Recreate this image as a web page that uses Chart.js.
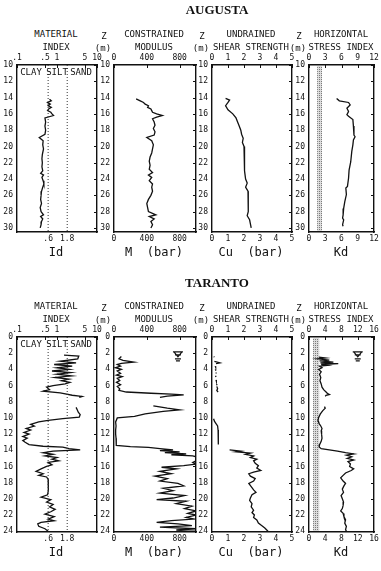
<!DOCTYPE html>
<html>
<head>
<meta charset="utf-8">
<title>DMT profiles - Augusta and Taranto</title>
<script src="https://cdn.jsdelivr.net/npm/chart.js"></script>
<style>
  body { margin: 0; background: #fff; }
  #wrap { position: relative; width: 381px; height: 571px; overflow: hidden; }
  #wrap canvas { position: absolute; }
  .t { position: absolute; transform: translate(-50%, -50%); white-space: pre; line-height: 1;
       font-family: 'DejaVu Sans Mono', monospace; font-size: 9px; color: #111; }
  .site { font-family: 'Liberation Serif', serif; font-weight: bold; font-size: 13px; }
  .name { font-size: 12px; }
</style>
</head>
<body>
<div id="wrap"></div>
<script>
// ---------- data ----------
const sites = ['AUGUSTA', 'TARANTO'];
const panelTitles = [['MATERIAL', 'INDEX'], ['CONSTRAINED', 'MODULUS'], ['UNDRAINED', 'SHEAR STRENGTH'], ['HORIZONTAL', 'STRESS INDEX']];
const axisNames = ['Id', 'M  (bar)', 'Cu  (bar)', 'Kd'];
const soilClasses = ['CLAY', 'SILT', 'SAND'];

const augDepthTicks = [10, 12, 14, 16, 18, 20, 22, 24, 26, 28, 30];
const tarDepthTicks = [0, 2, 4, 6, 8, 10, 12, 14, 16, 18, 20, 22, 24];
const idTicks = [0.1, 0.5, 1, 5, 10];
const idTickLabels = ['.1', '.5', '1', '5', '10'];
const idBounds = [0.6, 1.8];
const idBoundLabels = ['.6', '1.8'];
const mTicks = [0, 400, 800];
const cuTicks = [0, 1, 2, 3, 4, 5];
const augKdTicks = [0, 3, 6, 9, 12];
const tarKdTicks = [0, 4, 8, 12, 16];
const augKdBand = [1.5, 2.4];
const tarKdBand = [1.0, 2.5];
const tarWaterDepth = 2.2;

// AUGUSTA
const augIdDepth = [14.2,14.4,14.6,14.8,15.0,15.2,15.4,15.6,15.8,16.0,16.2,16.5,17.0,17.5,18.0,18.5,18.9,19.3,19.8,20.3,21.0,21.5,22.0,22.5,23.0,23.3,23.5,23.8,24.2,24.6,25.0,25.5,26.0,26.5,27.0,27.5,28.0,28.4,28.6,28.9,29.2,29.6,30.0];
const augId = [0.65,0.72,0.58,0.68,0.6,0.72,0.62,0.58,0.7,0.75,0.82,0.5,0.52,0.5,0.52,0.5,0.36,0.45,0.44,0.46,0.43,0.42,0.43,0.42,0.44,0.39,0.46,0.42,0.45,0.47,0.44,0.41,0.4,0.39,0.41,0.38,0.4,0.46,0.39,0.44,0.41,0.4,0.38];

const augMDepth = [14.15,14.4,14.6,14.8,15.0,15.2,15.4,15.6,15.8,16.0,16.2,16.4,16.6,17.0,17.4,17.8,18.2,18.6,18.9,19.3,19.8,20.3,20.8,21.3,21.8,22.3,22.8,23.2,23.5,23.8,24.2,24.6,25.0,25.5,26.0,26.5,27.0,27.5,28.0,28.4,28.6,28.9,29.2,29.6,30.0];
const augM = [270,320,360,380,420,410,450,460,470,520,590,520,470,490,500,480,500,490,400,460,480,470,460,440,430,440,430,470,420,460,430,470,460,470,450,420,400,410,420,510,430,490,450,470,450];

const augCuDepth = [14.1,14.3,14.6,15.0,15.5,16.0,16.5,17.0,17.5,18.0,18.5,19.0,19.5,20.0,21.0,22.0,23.0,24.0,24.5,25.0,25.5,26.0,27.0,28.0,28.5,29.0,29.5,30.0];
const augCu = [0.85,1.1,1.0,0.85,1.0,1.3,1.5,1.6,1.7,1.8,1.85,1.95,1.9,2.0,2.0,2.05,2.05,2.1,2.2,2.1,2.25,2.25,2.25,2.3,2.2,2.35,2.4,2.45];

const augKdDepth = [14.1,14.4,14.6,14.9,15.3,15.7,16.1,16.3,16.7,17.5,18.6,18.8,19.2,19.8,20.6,21.9,22.9,23.9,24.9,25.1,25.9,26.8,27.6,28.4,28.8,29.0,29.6,29.8];
const augKd = [5.1,5.6,7.3,7.6,7.0,7.3,7.0,7.3,8.1,8.2,8.3,8.5,8.2,8.1,7.9,7.7,7.4,7.3,7.1,6.8,6.9,6.6,6.4,6.3,6.2,6.4,6.2,6.3];

// TARANTO (null = gap in the record)
const tarIdDepth = [2.25,2.35,2.7,3.0,3.2,3.4,3.6,3.8,4.0,4.2,4.4,4.6,4.8,5.0,5.2,5.4,5.6,5.8,6.0,6.2,6.5,6.7,6.9,7.0,7.2,7.35,7.45,null,8.7,9.0,9.3,9.6,9.9,10.1,10.3,10.5,10.8,11.0,11.3,11.5,11.8,12.0,12.3,12.5,12.8,13.0,13.3,13.5,13.6,13.8,13.95,14.1,14.3,14.5,14.7,14.9,15.1,15.3,15.5,15.8,16.0,16.3,16.6,16.9,17.1,17.3,17.6,18.0,18.5,19.0,19.5,19.8,20.1,20.4,20.7,21.0,21.3,21.6,21.9,22.2,22.5,22.7,22.9,23.1,23.4,23.7,24.0];
const tarId = [1.5,3.5,3.3,1.2,3.0,0.85,2.4,1.0,2.0,0.75,2.2,1.0,2.3,0.9,2.0,1.3,2.1,1.6,0.8,0.55,0.65,0.45,1.2,1.5,2.4,4.2,3.6,null,3.0,3.2,3.4,3.8,3.6,1.4,0.6,0.35,0.22,0.27,0.17,0.22,0.15,0.2,0.14,0.18,0.14,0.16,0.2,0.45,1.4,2.0,3.8,0.8,0.45,0.8,0.5,1.0,0.75,1.1,0.6,0.75,0.55,0.4,0.3,0.45,0.35,0.55,0.6,0.6,0.62,0.6,0.58,0.4,0.7,0.55,0.8,0.65,0.9,0.7,0.5,0.85,0.6,0.85,0.4,0.33,0.35,0.5,0.6];

const tarMDepth = [2.4,2.7,2.9,3.1,3.25,3.4,3.6,3.8,4.0,4.2,4.5,4.7,4.9,5.1,5.4,5.6,5.9,6.1,6.4,6.6,6.8,6.95,7.05,7.15,7.3,7.45,null,8.5,8.8,9.0,9.2,9.5,9.8,10.0,10.5,11.0,11.5,12.0,12.5,13.0,13.4,13.55,13.65,13.8,13.95,14.05,14.2,14.3,14.45,14.55,14.7,14.8,15.0,15.3,15.5,15.7,15.9,16.1,16.3,16.6,16.9,17.2,17.5,17.8,18.1,18.4,18.7,19.0,19.3,19.6,19.9,20.1,20.3,20.6,20.9,21.2,21.5,21.8,22.0,22.3,22.5,22.7,22.9,23.1,23.3,23.5,23.7,23.85,24.0];
const tarM = [90,60,110,240,90,40,80,20,90,40,80,30,100,40,70,30,80,40,70,60,150,450,700,850,650,560,null,480,650,800,600,380,250,40,20,25,20,20,25,25,30,200,420,560,720,560,800,620,880,700,960,1000,1000,1000,960,1000,850,580,760,560,700,500,650,560,780,850,600,720,560,860,720,520,880,760,950,860,1000,900,1000,880,980,700,520,780,950,560,1000,760,1000];

const tarCuDepth = [2.4,2.5,null,3.0,3.2,3.3,null,3.6,3.75,null,4.0,4.15,null,4.4,4.5,null,4.8,4.95,null,5.3,5.45,null,5.8,5.95,null,6.1,6.4,6.6,6.8,null,10.1,10.4,10.7,11.0,11.5,12.0,12.5,13.0,13.3,null,13.95,14.1,14.2,14.35,14.5,14.7,14.9,15.1,15.3,15.6,15.9,16.2,16.5,16.7,16.9,17.2,17.5,17.8,18.1,18.5,18.9,19.2,19.5,19.9,20.2,20.6,21.0,21.4,21.7,22.0,22.3,22.6,23.0,23.3,23.6,24.0];
const tarCu = [0.12,0.14,null,0.15,0.5,0.25,null,0.2,0.23,null,0.2,0.25,null,0.25,0.26,null,0.22,0.25,null,0.25,0.27,null,0.3,0.3,null,0.3,0.35,0.3,0.38,null,0.1,0.15,0.25,0.35,0.38,0.4,0.38,0.4,0.4,null,1.1,1.8,1.5,2.4,2.1,2.6,2.4,2.8,2.6,2.7,2.9,2.8,3.05,2.6,2.3,2.4,2.7,2.6,2.3,2.45,2.6,2.75,2.5,2.4,2.35,2.5,2.45,2.6,2.5,2.65,2.6,2.8,2.9,3.1,3.3,3.5];

const tarKdDepth = [2.5,2.6,2.7,2.85,2.95,3.1,3.2,3.3,3.4,3.5,3.6,3.8,4.0,4.3,4.6,5.0,5.4,5.8,6.2,6.5,6.8,7.0,7.1,7.2,7.35,null,8.6,8.8,9.1,9.5,9.9,10.3,10.7,11.0,11.3,11.6,12.0,12.5,12.9,13.3,13.6,13.8,13.95,14.1,14.3,14.45,14.6,14.8,15.0,15.2,15.4,15.7,16.0,16.3,16.5,16.8,17.1,17.4,17.8,18.1,18.4,18.8,19.2,19.6,20.0,20.4,20.8,21.2,21.5,21.8,22.2,22.6,23.0,23.4,23.8,24.0];
const tarKd = [2.4,4.0,2.2,5.0,2.6,6.0,2.8,7.2,3.0,4.5,2.6,3.2,2.4,3.0,2.6,2.9,2.7,3.0,3.2,3.6,4.2,4.6,5.0,4.2,4.0,null,3.8,4.0,3.4,2.8,2.4,2.2,2.5,2.9,3.2,3.0,3.1,3.2,3.0,2.6,2.5,3.0,5.0,7.0,9.0,11.0,9.2,10.5,9.4,11.0,9.6,10.2,10.0,11.0,10.4,9.0,8.4,7.8,8.4,9.0,8.6,8.2,8.5,7.9,8.2,8.5,8.4,8.2,7.8,8.4,8.6,9.0,8.8,9.2,9.0,9.2];

// ---------- layout ----------
const INK = '#111';
const FONT = "'DejaVu Sans Mono', monospace";
const AXL = 30, AXR = 6, AXT = 12, AXB = 14;
const rows = [
  { t: 65, b: 232, ymin: 10, ymax: 30.5, ticks: augDepthTicks, titleY: 9 },
  { t: 337, b: 532, ymin: 0, ymax: 24.1, ticks: tarDepthTicks, titleY: 282 }
];
const cols = [
  { l: 17, r: 97, cx: 56 },
  { l: 114, r: 196, cx: 154 },
  { l: 212, r: 292, cx: 251 },
  { l: 309, r: 374, cx: 341 }
];
const wrap = document.getElementById('wrap');

function text(str, x, y, cls) {
  const d = document.createElement('div');
  d.className = 't' + (cls ? ' ' + cls : '');
  d.textContent = str;
  d.style.left = x + 'px';
  d.style.top = y + 'px';
  wrap.appendChild(d);
}

function pts(depths, vals) {
  return depths.map((d, i) => ({ x: vals[i], y: d }));
}

function curve(depths, vals) {
  return { data: pts(depths, vals), showLine: true, borderColor: INK, borderWidth: 1.3, pointRadius: 0, spanGaps: false };
}

function boundLine(v, row) {
  return { data: [{ x: v, y: row.ymin }, { x: v, y: row.ymax }], showLine: true, borderColor: '#333',
           borderWidth: 1, borderDash: [1, 2], pointRadius: 0 };
}

function fixSize(size) {
  return function (s) {
    if (s.isHorizontal()) s.height = size; else s.width = size;
    s.paddingLeft = s.paddingRight = s.paddingTop = s.paddingBottom = 0;
  };
}
function setTicks(vals) {
  return function (s) { s.ticks = vals.map(v => ({ value: v })); };
}

// dotted grey band (reference Kd), inward tick marks and water-table marker
const pat = document.createElement('canvas');
pat.width = 2; pat.height = 2;
const pctx = pat.getContext('2d');
pctx.fillStyle = '#dcdcdc'; pctx.fillRect(0, 0, 2, 2);
pctx.fillStyle = '#7a7a7a'; pctx.fillRect(0, 0, 1, 1);

const overlay = {
  id: 'overlay',
  beforeDatasetsDraw(chart, args, o) {
    if (!o.band) return;
    const ctx = chart.ctx, a = chart.chartArea, sx = chart.scales.x;
    const x0 = sx.getPixelForValue(o.band[0]), x1 = sx.getPixelForValue(o.band[1]);
    ctx.save();
    ctx.fillStyle = ctx.createPattern(pat, 'repeat');
    ctx.fillRect(x0, a.top + 1, x1 - x0, a.bottom - a.top - 2);
    ctx.restore();
  },
  afterDatasetsDraw(chart, args, o) {
    const ctx = chart.ctx, a = chart.chartArea;
    const yr = chart.scales.yr, xs = chart.scales.x;
    ctx.save();
    ctx.strokeStyle = INK; ctx.lineWidth = 1;
    ctx.beginPath();
    yr.ticks.forEach(t => {
      const py = Math.round(yr.getPixelForValue(t.value)) + 0.5;
      ctx.moveTo(a.right - 3, py); ctx.lineTo(a.right, py);
    });
    xs.ticks.forEach(t => {
      const px = Math.round(xs.getPixelForValue(t.value)) + 0.5;
      ctx.moveTo(px, a.top); ctx.lineTo(px, a.top + 3);
    });
    ctx.stroke();
    if (o.water) {
      const px = xs.getPixelForValue(o.water.x);
      const py = chart.scales.y.getPixelForValue(o.water.depth);
      ctx.lineWidth = 1.2;
      ctx.beginPath();
      ctx.moveTo(px - 5, py - 3); ctx.lineTo(px + 5, py - 3);
      ctx.moveTo(px - 4, py - 3); ctx.lineTo(px, py + 2); ctx.lineTo(px + 4, py - 3);
      ctx.moveTo(px - 3, py); ctx.lineTo(px + 3, py);
      ctx.moveTo(px - 3, py + 4); ctx.lineTo(px + 3, py + 4);
      ctx.moveTo(px - 2, py + 6); ctx.lineTo(px + 2, py + 6);
      ctx.stroke();
    }
    ctx.restore();
  }
};

function panel(row, col, x, datasets, extra) {
  const w = col.r - col.l + AXL + AXR, h = row.b - row.t + AXT + AXB;
  const c = document.createElement('canvas');
  c.width = w; c.height = h;
  c.style.left = (col.l - AXL) + 'px';
  c.style.top = (row.t - AXT) + 'px';
  c.style.width = w + 'px';
  c.style.height = h + 'px';
  wrap.appendChild(c);

  const tickFont = { family: FONT, size: 8 };
  const border = { color: INK, width: 1.4 };
  const noTicks = { drawOnChartArea: false, drawTicks: false };
  const lab = (labels) => (v, i) => labels ? labels[i] : v;

  new Chart(c, {
    type: 'scatter',
    data: { datasets },
    options: {
      responsive: false, animation: false, events: [],
      layout: { padding: 0 },
      plugins: { legend: { display: false }, tooltip: { enabled: false }, overlay: extra || {} },
      scales: {
        x: {
          type: x.type, position: 'top', min: x.min, max: x.max,
          afterBuildTicks: setTicks(x.ticks), afterFit: fixSize(AXT),
          ticks: { font: tickFont, color: INK, padding: 2, maxRotation: 0, autoSkip: false, callback: lab(x.labels) },
          grid: noTicks, border
        },
        xb: {
          type: x.type, position: 'bottom', min: x.min, max: x.max,
          afterBuildTicks: setTicks(x.bottomTicks || x.ticks), afterFit: fixSize(AXB),
          ticks: { font: tickFont, color: INK, padding: 2, maxRotation: 0, autoSkip: false,
                   callback: lab(x.bottomLabels || x.labels) },
          grid: noTicks, border
        },
        y: {
          type: 'linear', position: 'left', reverse: true, min: row.ymin, max: row.ymax,
          afterBuildTicks: setTicks(row.ticks), afterFit: fixSize(AXL),
          ticks: { font: tickFont, color: INK, padding: 4, autoSkip: false },
          grid: noTicks, border
        },
        yr: {
          type: 'linear', position: 'right', reverse: true, min: row.ymin, max: row.ymax,
          afterBuildTicks: setTicks(row.ticks), afterFit: fixSize(AXR),
          ticks: { display: false },
          grid: noTicks, border
        }
      }
    },
    plugins: [overlay]
  });
}

// ---------- panels ----------
const series = [
  { id: [augIdDepth, augId], m: [augMDepth, augM], cu: [augCuDepth, augCu], kd: [augKdDepth, augKd], kdTicks: augKdTicks, band: augKdBand },
  { id: [tarIdDepth, tarId], m: [tarMDepth, tarM], cu: [tarCuDepth, tarCu], kd: [tarKdDepth, tarKd], kdTicks: tarKdTicks, band: tarKdBand, water: tarWaterDepth }
];

series.forEach((s, r) => {
  const row = rows[r];
  const kdMax = s.kdTicks[s.kdTicks.length - 1];
  panel(row, cols[0],
    { type: 'logarithmic', min: 0.1, max: 10, ticks: idTicks, labels: idTickLabels, bottomTicks: idBounds, bottomLabels: idBoundLabels },
    [boundLine(idBounds[0], row), boundLine(idBounds[1], row), curve(s.id[0], s.id[1])]);
  panel(row, cols[1], { type: 'linear', min: 0, max: 1000, ticks: mTicks },
    [curve(s.m[0], s.m[1])], s.water ? { water: { x: 780, depth: s.water } } : {});
  panel(row, cols[2], { type: 'linear', min: 0, max: 5, ticks: cuTicks },
    [curve(s.cu[0], s.cu[1])]);
  panel(row, cols[3], { type: 'linear', min: 0, max: kdMax, ticks: s.kdTicks },
    [curve(s.kd[0], s.kd[1])], s.water ? { band: s.band, water: { x: 12, depth: s.water } } : { band: s.band });

  // texts
  text(sites[r], 217, row.titleY, 'site');
  cols.forEach((c, k) => {
    text(panelTitles[k][0], c.cx, row.t - 31);
    text(panelTitles[k][1], c.cx, row.t - 18);
    text(axisNames[k], c.cx, row.b + 20, 'name');
    if (k > 0) {
      text('Z', c.l - 10, row.t - 29);
      text('(m)', c.l - 11, row.t - 17);
    }
  });
  text(soilClasses[0], 31, row.t + 7);
  text(soilClasses[1], 57, row.t + 7);
  text(soilClasses[2], 81, row.t + 7);
});
</script>
</body>
</html>
